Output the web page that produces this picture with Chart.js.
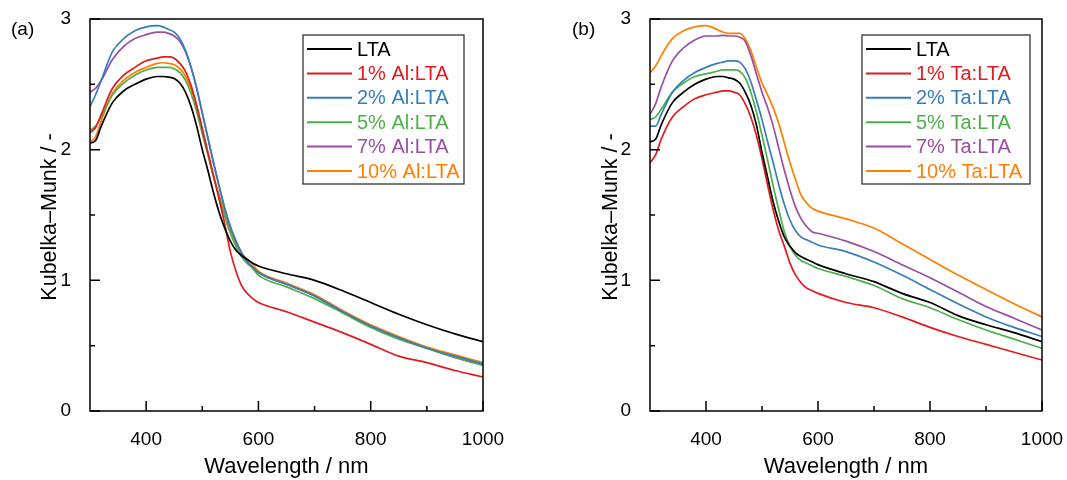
<!DOCTYPE html>
<html>
<head>
<meta charset="utf-8">
<script src="https://cdn.jsdelivr.net/npm/chart.js@4.4.0/dist/chart.umd.min.js"></script>
<style>
  html, body { margin: 0; padding: 0; background: #fff; }
  #wrap { position: relative; width: 1067px; height: 480px; }
  canvas { position: absolute; top: 0; }
</style>
</head>
<body>
<div id="wrap">
  <canvas id="chartA" width="540" height="480" style="left:0"></canvas>
  <canvas id="chartB" width="527" height="480" style="left:540px"></canvas>
</div>
<script>
// wavelength grid (nm)
const wavelength = [300, 310, 320, 340, 360, 380, 400, 420, 430, 440, 450, 460, 470, 480, 490, 500, 510, 520, 530, 540, 550, 560, 570, 580, 590, 600, 650, 700, 750, 800, 850, 900, 950, 1000];
const xTicks = [400, 600, 800, 1000];
const xMinor = [500, 700, 900];
const yMinor = [0.5, 1.5, 2.5];

const labelsA = ['LTA', '1% Al:LTA', '2% Al:LTA', '5% Al:LTA', '7% Al:LTA', '10% Al:LTA'];
const labelsB = ['LTA', '1% Ta:LTA', '2% Ta:LTA', '5% Ta:LTA', '7% Ta:LTA', '10% Ta:LTA'];
const colors = ['#000000', '#e41a1c', '#377eb8', '#4daf4a', '#984ea3', '#ff7f00'];

// (a) Al doped
const ltaA = [2.05, 2.07, 2.18, 2.36, 2.45, 2.50, 2.54, 2.56, 2.56, 2.555, 2.545, 2.51, 2.44, 2.33, 2.18, 2.00, 1.84, 1.67, 1.52, 1.40, 1.30, 1.23, 1.19, 1.16, 1.13, 1.11, 1.05, 1.00, 0.92, 0.83, 0.74, 0.66, 0.59, 0.53];
const al1  = [2.13, 2.17, 2.27, 2.47, 2.57, 2.63, 2.68, 2.70, 2.71, 2.71, 2.70, 2.66, 2.60, 2.49, 2.34, 2.16, 1.98, 1.80, 1.62, 1.43, 1.22, 1.07, 0.96, 0.90, 0.86, 0.83, 0.76, 0.68, 0.60, 0.51, 0.42, 0.37, 0.31, 0.26];
const al2  = [2.33, 2.42, 2.53, 2.75, 2.85, 2.91, 2.94, 2.95, 2.94, 2.92, 2.90, 2.85, 2.76, 2.63, 2.47, 2.28, 2.09, 1.90, 1.72, 1.55, 1.41, 1.30, 1.21, 1.14, 1.10, 1.06, 0.97, 0.88, 0.76, 0.65, 0.56, 0.48, 0.42, 0.36];
const al5  = [2.15, 2.18, 2.25, 2.42, 2.51, 2.57, 2.61, 2.63, 2.63, 2.63, 2.62, 2.59, 2.53, 2.43, 2.29, 2.12, 1.96, 1.79, 1.64, 1.49, 1.36, 1.26, 1.18, 1.13, 1.09, 1.04, 0.95, 0.86, 0.75, 0.64, 0.55, 0.48, 0.41, 0.35];
const al7  = [2.44, 2.47, 2.53, 2.69, 2.79, 2.85, 2.88, 2.90, 2.90, 2.89, 2.87, 2.83, 2.75, 2.63, 2.47, 2.28, 2.09, 1.90, 1.72, 1.55, 1.41, 1.30, 1.21, 1.14, 1.10, 1.06, 0.97, 0.88, 0.76, 0.65, 0.56, 0.48, 0.41, 0.35];
const al10 = [2.06, 2.10, 2.22, 2.43, 2.53, 2.59, 2.63, 2.66, 2.665, 2.66, 2.65, 2.62, 2.56, 2.46, 2.32, 2.15, 1.97, 1.80, 1.65, 1.51, 1.38, 1.28, 1.21, 1.16, 1.12, 1.07, 0.98, 0.89, 0.77, 0.66, 0.57, 0.49, 0.43, 0.37];

// (b) Ta doped
const ltaB = [2.06, 2.08, 2.19, 2.36, 2.44, 2.50, 2.54, 2.56, 2.56, 2.55, 2.54, 2.51, 2.44, 2.34, 2.19, 1.98, 1.79, 1.60, 1.45, 1.33, 1.26, 1.21, 1.18, 1.16, 1.14, 1.12, 1.05, 0.99, 0.90, 0.83, 0.73, 0.66, 0.60, 0.53];
const ta1  = [1.90, 1.96, 2.08, 2.25, 2.33, 2.39, 2.42, 2.44, 2.45, 2.45, 2.44, 2.42, 2.35, 2.25, 2.11, 1.93, 1.73, 1.54, 1.38, 1.26, 1.13, 1.04, 0.98, 0.94, 0.92, 0.90, 0.83, 0.79, 0.72, 0.64, 0.57, 0.51, 0.45, 0.39];
const ta2  = [2.18, 2.18, 2.27, 2.44, 2.53, 2.59, 2.63, 2.66, 2.67, 2.68, 2.68, 2.67, 2.62, 2.52, 2.38, 2.23, 2.06, 1.90, 1.73, 1.58, 1.46, 1.38, 1.33, 1.31, 1.29, 1.27, 1.22, 1.14, 1.04, 0.93, 0.82, 0.72, 0.64, 0.57];
const ta5  = [2.23, 2.25, 2.31, 2.44, 2.51, 2.56, 2.58, 2.60, 2.61, 2.61, 2.61, 2.60, 2.55, 2.44, 2.29, 2.11, 1.92, 1.72, 1.54, 1.37, 1.26, 1.19, 1.15, 1.13, 1.11, 1.09, 1.03, 0.96, 0.86, 0.79, 0.70, 0.62, 0.55, 0.48];
const ta7  = [2.27, 2.35, 2.48, 2.68, 2.78, 2.84, 2.87, 2.87, 2.875, 2.87, 2.87, 2.86, 2.83, 2.72, 2.58, 2.44, 2.32, 2.18, 2.01, 1.84, 1.69, 1.56, 1.47, 1.41, 1.37, 1.36, 1.30, 1.22, 1.12, 1.02, 0.91, 0.80, 0.71, 0.62];
const ta10 = [2.59, 2.64, 2.72, 2.85, 2.91, 2.94, 2.95, 2.92, 2.90, 2.89, 2.89, 2.89, 2.85, 2.76, 2.63, 2.51, 2.42, 2.32, 2.20, 2.05, 1.90, 1.77, 1.65, 1.59, 1.55, 1.53, 1.47, 1.40, 1.28, 1.16, 1.04, 0.93, 0.82, 0.72];

const FONT = 'Arial, "Liberation Sans", sans-serif';

const framePlugin = {
  id: 'frame',
  afterDraw(chart, args, opts) {
    const ctx = chart.ctx;
    const a = chart.chartArea;
    const xs = chart.scales.x, ys = chart.scales.y;
    ctx.save();
    ctx.strokeStyle = '#000';
    ctx.lineWidth = 1.5;
    ctx.strokeRect(a.left, a.top, a.right - a.left, a.bottom - a.top);

    // inward ticks
    ctx.beginPath();
    xTicks.concat(xMinor).forEach(v => {
      const px = xs.getPixelForValue(v);
      const len = xTicks.includes(v) ? 10 : 5;
      ctx.moveTo(px, a.bottom); ctx.lineTo(px, a.bottom - len);
    });
    [0, 1, 2, 3].concat(yMinor).forEach(v => {
      const py = ys.getPixelForValue(v);
      const len = Number.isInteger(v) ? 10 : 5;
      ctx.moveTo(a.left, py); ctx.lineTo(a.left + len, py);
    });
    ctx.stroke();

    // titles
    ctx.fillStyle = '#000';
    ctx.font = '22px ' + FONT;
    ctx.textAlign = 'center';
    ctx.textBaseline = 'middle';
    ctx.fillText('Wavelength / nm', (a.left + a.right) / 2, 467);
    ctx.save();
    ctx.font = '21.5px ' + FONT;
    ctx.translate(opts.yTitleX, (a.top + a.bottom) / 2 + 2);
    ctx.rotate(-Math.PI / 2);
    ctx.fillText('Kubelka\u2013Munk / -', 0, 0);
    ctx.restore();
    ctx.font = '19px ' + FONT;
    ctx.textAlign = 'left';
    ctx.fillText(opts.panel, opts.panelX, 30);

    // legend box
    const lb = opts.legend;
    ctx.strokeStyle = '#333';
    ctx.lineWidth = 1.3;
    ctx.strokeRect(lb.x, lb.y, lb.w, lb.h);
    ctx.font = '20px ' + FONT;
    chart.data.datasets.forEach((ds, i) => {
      const y = lb.y + 14 + i * 24.4;
      ctx.strokeStyle = ds.borderColor;
      ctx.lineWidth = 2;
      ctx.beginPath();
      ctx.moveTo(lb.x + 4, y); ctx.lineTo(lb.x + 49, y);
      ctx.stroke();
      ctx.fillStyle = ds.borderColor;
      ctx.fillText(ds.label, lb.x + 54, y + 1);
    });
    ctx.restore();
  }
};

function makeChart(id, labels, series, opts) {
  const datasets = series.map((arr, i) => ({
    label: labels[i],
    data: wavelength.map((w, j) => ({ x: w, y: arr[j] })),
    borderColor: colors[i],
    borderWidth: 1.7,
    pointRadius: 0,
    cubicInterpolationMode: 'monotone',
    fill: false
  }));
  return new Chart(document.getElementById(id), {
    type: 'line',
    data: { datasets },
    plugins: [framePlugin],
    options: {
      responsive: false,
      animation: false,
      layout: { padding: { left: 0, right: opts.padRight, top: 19, bottom: 0 } },
      plugins: {
        legend: { display: false },
        tooltip: { enabled: false },
        frame: opts
      },
      scales: {
        x: {
          type: 'linear',
          min: 300, max: 1000,
          grid: { display: false },
          border: { display: false },
          afterBuildTicks: s => { s.ticks = xTicks.map(v => ({ value: v })); },
          afterFit: s => { s.height = 69; s.paddingRight = 0; s.paddingLeft = 0; },
          ticks: { color: '#000', font: { size: 19, family: FONT }, padding: 9, maxRotation: 0, callback: v => String(v) }
        },
        y: {
          min: 0, max: 3,
          grid: { display: false },
          border: { display: false },
          afterFit: s => { s.width = opts.axisLeft; s.paddingTop = 0; s.paddingBottom = 0; },
          ticks: { stepSize: 1, color: '#000', font: { size: 19, family: FONT }, padding: 11, callback: v => String(v) }
        }
      }
    }
  });
}

makeChart('chartA', labelsA, [ltaA, al1, al2, al5, al7, al10], {
  padRight: 57, axisLeft: 90, yTitleX: 50, panel: '(a)', panelX: 11,
  legend: { x: 303, y: 35, w: 161, h: 149 }
});
makeChart('chartB', labelsB, [ltaB, ta1, ta2, ta5, ta7, ta10], {
  padRight: 25, axisLeft: 110, yTitleX: 71, panel: '(b)', panelX: 32,
  legend: { x: 322, y: 35, w: 168, h: 149 }
});
</script>
</body>
</html>
